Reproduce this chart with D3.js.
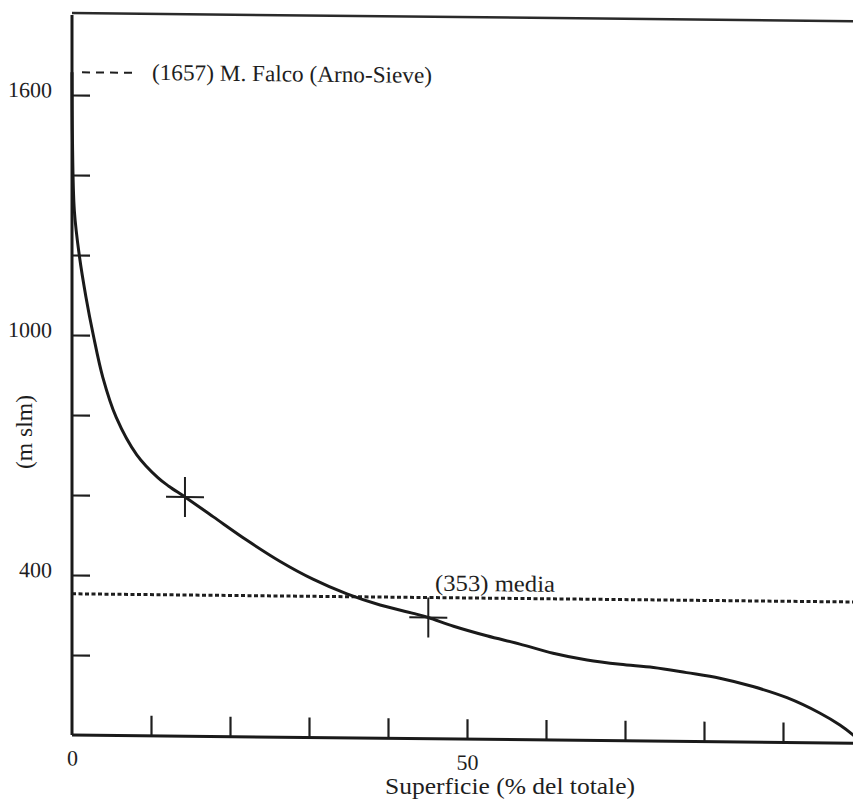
<!DOCTYPE html>
<html>
<head>
<meta charset="utf-8">
<script src="https://cdn.jsdelivr.net/npm/d3@7"></script>
<style>
  body { margin: 0; background: #fff; }
  svg text { font-family: "Liberation Serif", "DejaVu Serif", serif; fill: #1e1e1e; }
</style>
</head>
<body>
<div id="chart"></div>
<script>
// curva ipsografica: superficie cumulata (%) e quota (m slm)
var superficie = [0, 0.05, 0.3, 0.94, 1.77, 2.7, 3.9, 5.6, 8.2, 10.9, 12.3, 14.3, 17.9, 22.1, 26.3,
  30.5, 34.8, 39.0, 43.2, 45.1, 48.3, 52.5, 56.7, 60.9, 65.2, 69.4, 73.6, 77.8, 82.0, 86.2,
  90.5, 94.7, 97.2, 98.9, 100];
var quota = [1657, 1500, 1310, 1197, 1095, 1000, 895, 795, 702, 645, 624, 598, 549, 492, 440,
  396, 360, 333, 313, 303, 282, 259, 239, 217, 201, 191, 184, 172, 159, 139,
  112, 74, 45, 20, 0];

var markers = [[14.3, 598], [45.1, 303]];   // crocette sulla curva
var maxQuota = 1657;
var mediaQuota = 353;

var yTicks = [200, 400, 600, 800, 1000, 1200, 1400, 1600];
var yLabels = [400, 1000, 1600];
var xTicks = [0, 10, 20, 30, 40, 50, 60, 70, 80, 90];
var xLabels = [0, 50];

var width = 853, height = 803;
var margin = { top: 15, left: 72 };
var plotBottom = 735;

var svg = d3.select("#chart")
  .append("svg")
  .attr("width", width)
  .attr("height", height);

svg.append("rect")
  .attr("width", width)
  .attr("height", height)
  .attr("fill", "#fff");

// the scan is slightly sheared, horizontal lines drop to the right
var g = svg.append("g")
  .attr("transform", "translate(" + margin.left + ",0) skewY(0.6) translate(" + (-margin.left) + ",0)");

var x = d3.scaleLinear()
  .domain([0, 100])
  .range([margin.left, margin.left + 790]);

var y = d3.scaleLinear()
  .domain([0, 1800])
  .range([plotBottom, margin.top]);

// y axis ticks (inside)
var yAxis = g.append("g")
  .attr("transform", "translate(" + margin.left + ",0)")
  .call(d3.axisLeft(y)
    .tickValues(yTicks)
    .tickSize(-18)
    .tickPadding(20)
    .tickFormat(function (d) { return yLabels.indexOf(d) >= 0 ? d : ""; }));
yAxis.select(".domain").remove();
yAxis.selectAll("line").attr("stroke", "#1e1e1e").attr("stroke-width", 2.2);
yAxis.selectAll("text")
  .attr("font-size", 22)
  .attr("dy", "0.1em")
  .style("font-family", "Liberation Serif");

// x axis ticks (inside)
var xAxis = g.append("g")
  .attr("transform", "translate(0," + plotBottom + ")")
  .call(d3.axisBottom(x)
    .tickValues(xTicks)
    .tickSize(-20)
    .tickPadding(15)
    .tickFormat(function (d) { return xLabels.indexOf(d) >= 0 ? d : ""; }));
xAxis.select(".domain").remove();
xAxis.selectAll("line").attr("stroke", "#1e1e1e").attr("stroke-width", 2.2);
xAxis.selectAll(".tick").filter(function (d) { return d === 0; }).select("line").remove();
xAxis.selectAll("text")
  .attr("font-size", 22)
  .style("font-family", "Liberation Serif");

// frame: left axis, bottom axis, top line
g.append("line")
  .attr("x1", margin.left).attr("x2", margin.left)
  .attr("y1", y(1800)).attr("y2", y(0))
  .attr("stroke", "#1a1a1a").attr("stroke-width", 3);
g.append("line")
  .attr("x1", margin.left).attr("x2", width)
  .attr("y1", y(0)).attr("y2", y(0))
  .attr("stroke", "#1a1a1a").attr("stroke-width", 3);
g.append("line")
  .attr("x1", margin.left).attr("x2", width)
  .attr("y1", y(1800) - 2).attr("y2", y(1800) - 2)
  .attr("stroke", "#2a2a2a").attr("stroke-width", 2.5);

// quota massima
g.append("line")
  .attr("x1", margin.left + 10).attr("x2", margin.left + 65)
  .attr("y1", y(maxQuota)).attr("y2", y(maxQuota))
  .attr("stroke", "#1e1e1e").attr("stroke-width", 2)
  .attr("stroke-dasharray", "8,6");
g.append("text")
  .attr("x", 152)
  .attr("y", y(maxQuota) + 7)
  .attr("font-size", 23)
  .attr("textLength", 280)
  .attr("lengthAdjust", "spacingAndGlyphs")
  .text("(" + maxQuota + ") M. Falco (Arno-Sieve)");

// quota media
g.append("line")
  .attr("x1", margin.left).attr("x2", width)
  .attr("y1", y(mediaQuota)).attr("y2", y(mediaQuota))
  .attr("stroke", "#1e1e1e").attr("stroke-width", 3)
  .attr("stroke-dasharray", "4,2.5");
g.append("text")
  .attr("x", 435)
  .attr("y", y(mediaQuota) - 7)
  .attr("font-size", 23)
  .attr("textLength", 120)
  .attr("lengthAdjust", "spacingAndGlyphs")
  .text("(" + mediaQuota + ") media");

// curva
var line = d3.line()
  .x(function (d) { return x(d[0]); })
  .y(function (d) { return y(d[1]); })
  .curve(d3.curveCatmullRom.alpha(0.5));

g.append("path")
  .datum(superficie.map(function (s, i) { return [s, quota[i]]; }))
  .attr("d", line)
  .attr("fill", "none")
  .attr("stroke", "#1a1a1a")
  .attr("stroke-width", 3);

// crocette
var cross = g.selectAll(".cross")
  .data(markers)
  .enter()
  .append("g")
  .attr("class", "cross")
  .attr("transform", function (d) { return "translate(" + x(d[0]) + "," + y(d[1]) + ")"; });
cross.append("line")
  .attr("x1", -19).attr("x2", 19)
  .attr("stroke", "#1e1e1e").attr("stroke-width", 2);
cross.append("line")
  .attr("y1", -20).attr("y2", 20)
  .attr("stroke", "#1e1e1e").attr("stroke-width", 2);

// titoli assi
svg.append("text")
  .attr("transform", "translate(32,432) rotate(-90)")
  .attr("text-anchor", "middle")
  .attr("font-size", 23)
  .attr("textLength", 74)
  .attr("lengthAdjust", "spacingAndGlyphs")
  .text("(m slm)");

svg.append("text")
  .attr("x", 510)
  .attr("y", 794)
  .attr("text-anchor", "middle")
  .attr("font-size", 23)
  .attr("textLength", 250)
  .attr("lengthAdjust", "spacingAndGlyphs")
  .text("Superficie (% del totale)");
</script>
</body>
</html>
